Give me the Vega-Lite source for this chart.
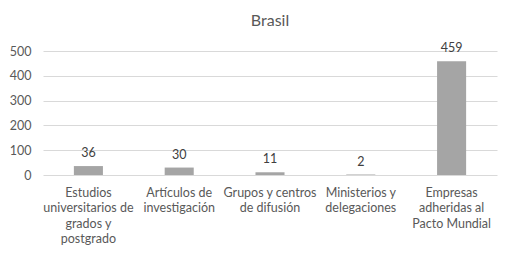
{
  "$schema": "https://vega.github.io/schema/vega-lite/v6.json",
  "autosize": "none",
  "width": 454,
  "height": 124,
  "padding": {"left": 43, "top": 51, "right": 16, "bottom": 82},
  "background": "white",
  "title": {"text": "Brasil", "font": "Lato", "fontSize": 16, "fontWeight": "normal", "color": "#595959", "offset": 13},
  "data": {
    "values": [
      {"categoria": "Estudios|universitarios de|grados y|postgrado", "valor": 36},
      {"categoria": "Artículos de|investigación", "valor": 30},
      {"categoria": "Grupos y centros|de difusión", "valor": 11},
      {"categoria": "Ministerios y|delegaciones", "valor": 2},
      {"categoria": "Empresas|adheridas al|Pacto Mundial", "valor": 459}
    ]
  },
  "encoding": {
    "x": {
      "field": "categoria", "type": "nominal", "sort": null, "title": null,
      "scale": {"paddingInner": 0.68, "paddingOuter": 0.34},
      "axis": {"labelAngle": 0, "labelExpr": "split(datum.label, '|')", "labelLineHeight": 15.5, "labelPadding": 11, "ticks": false, "domain": false, "labelFont": "Lato", "labelFontSize": 12.5, "labelColor": "#595959", "labelBaseline": "top"}
    },
    "y": {
      "field": "valor", "type": "quantitative", "title": null,
      "scale": {"domain": [0, 500]},
      "axis": {"values": [0, 100, 200, 300, 400, 500], "ticks": false, "domain": false, "labelPadding": 12, "labelFont": "Lato", "labelFontSize": 12.5, "labelColor": "#595959", "gridColor": "#d9d9d9"}
    }
  },
  "layer": [
    {"mark": {"type": "bar", "color": "#a5a5a5"}},
    {"mark": {"type": "text", "dy": -6, "baseline": "bottom", "font": "Lato", "fontSize": 12.5, "color": "#404040"}, "encoding": {"text": {"field": "valor", "type": "quantitative"}}}
  ],
  "config": {"view": {"stroke": null}}
}
